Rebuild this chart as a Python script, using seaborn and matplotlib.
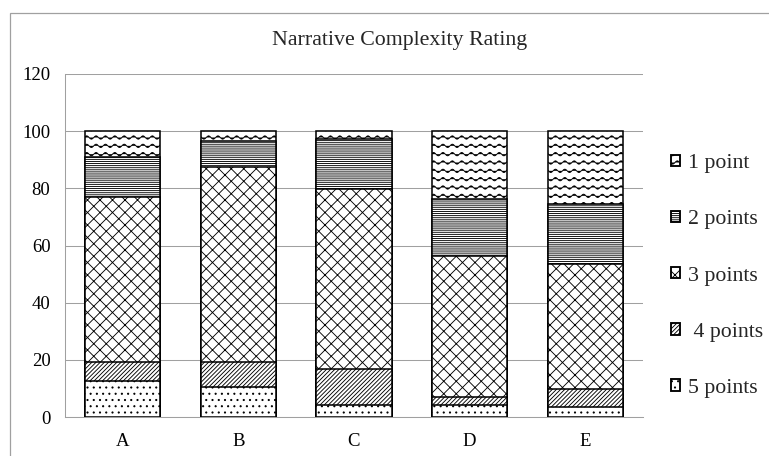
import numpy as np
import pandas as pd
import seaborn as sns
import matplotlib.pyplot as plt
import matplotlib.hatch as mhatch
from matplotlib.patches import Patch, Rectangle
from matplotlib.path import Path

categories = ["A", "B", "C", "D", "E"]
pts5 = [12.5, 10.4, 4.3, 4.1, 3.5]
pts4 = [6.8, 8.9, 12.6, 2.9, 6.3]
pts3 = [57.7, 68.1, 62.7, 49.2, 43.9]
pts2 = [13.9, 9.1, 17.8, 19.9, 20.9]
pts1 = [9.1, 3.5, 2.6, 23.9, 25.4]

labels = ["5 points", " 4 points", "3 points", "2 points", "1 point"]
hatches = ["..", "//////", "xx", "------", "o"]


class WaveHatch(mhatch.HatchPatternBase):
    """Wavy rows, used in place of the small-circle hatch ('o')."""

    def __init__(self, hatch, density):
        self.num_rows = hatch.count("o") * density * 3 // 2
        self.num_pts = 97
        self.num_vertices = self.num_rows * self.num_pts

    def set_vertices_and_codes(self, vertices, codes):
        xs = np.linspace(0, 1, self.num_pts)
        for i in range(self.num_rows):
            y0 = (i + 0.5) / self.num_rows
            sl = slice(i * self.num_pts, (i + 1) * self.num_pts)
            vertices[sl, 0] = xs
            vertices[sl, 1] = y0 + 0.2 / self.num_rows * np.sin(2 * np.pi * 8 * xs)
            codes[sl] = Path.LINETO
            codes[i * self.num_pts] = Path.MOVETO


mhatch._hatch_types = [WaveHatch if t is mhatch.SmallCircles else t
                       for t in mhatch._hatch_types]

sns.set_theme(style="white")
plt.rcParams["font.family"] = ["Liberation Serif", "DejaVu Serif"]
plt.rcParams["hatch.linewidth"] = 0.85

df = pd.DataFrame({"cat": categories, "5": pts5, "4": pts4, "3": pts3,
                   "2": pts2, "1": pts1})
cum = df[["5", "4", "3", "2", "1"]].cumsum(axis=1)

fig = plt.figure(figsize=(769 / 75, 456 / 75), dpi=75)
ax = fig.add_axes([65 / 769, 1 - 417 / 456, 578 / 769, 343 / 456])

# tallest first, each lower layer drawn over the one above it
for col, hatch in zip(["1", "2", "3", "4", "5"], hatches[::-1]):
    sns.barplot(x=df["cat"], y=cum[col], color="white", edgecolor="black",
                hatch=hatch, width=0.65, linewidth=1.5, saturation=1, ax=ax)

ax.set_xlim(-0.5, 4.5)
ax.set_ylim(0, 120)
ax.set_yticks(range(0, 121, 20))
ax.set_xlabel("")
ax.set_ylabel("")
ax.yaxis.grid(True, color="#a0a0a0", linewidth=1)
ax.set_axisbelow(True)
for s in ["top", "right"]:
    ax.spines[s].set_visible(False)
for s in ["left", "bottom"]:
    ax.spines[s].set_color("#a0a0a0")
    ax.spines[s].set_linewidth(1)
ax.tick_params(length=0, labelsize=18, colors="black")
ax.tick_params(axis="y", pad=14)
ax.tick_params(axis="x", pad=15)

fig.text(400 / 769, 1 - 41 / 456, "Narrative Complexity Rating",
         ha="center", va="center", fontsize=21)

handles = [Patch(facecolor="white", edgecolor="black", hatch=h, linewidth=1.8)
           for h in hatches]
fig.legend(handles[::-1], labels[::-1], loc="center left",
           bbox_to_anchor=(671 / 769, 1 - 276 / 456), frameon=False,
           fontsize=21, handlelength=0.42, handleheight=0.42,
           handletextpad=0.35, labelspacing=1.7, borderpad=0,
           borderaxespad=0)

fig.add_artist(Rectangle((10 / 769, -0.1), 1.2, 1.1 - 13 / 456,
                         transform=fig.transFigure, fill=False,
                         edgecolor="#a0a0a0", linewidth=1.2))

fig.savefig("out.png", dpi=75)
